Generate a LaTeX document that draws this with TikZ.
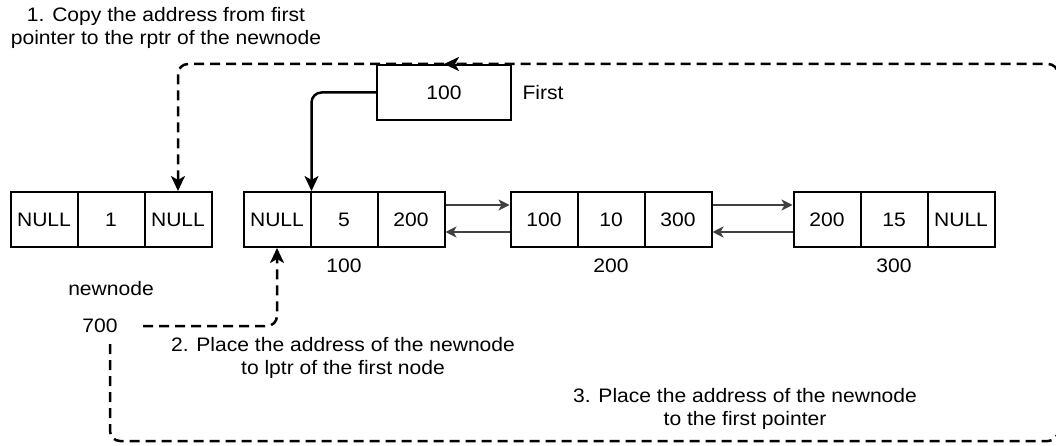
\documentclass[tikz,border=0pt]{standalone}
\usepackage{fontspec}
\setmainfont{Liberation Sans}[FakeStretch=1.08]
\usetikzlibrary{arrows.meta}
\begin{document}
\begin{tikzpicture}[x=1pt,y=-1pt,
  every node/.style={font=\fontsize{19.5}{23.5}\selectfont},
  cell/.style={draw, line width=2pt, minimum width=67pt, minimum height=55pt, inner sep=0pt},
  link/.style={draw=black!75, line width=1.8pt, -{Stealth[length=11pt,width=11pt,inset=3pt]}},
  movearrow/.style={line width=2.5pt, dash pattern=on 10pt off 6pt, rounded corners=10pt, -{Stealth[length=15pt,width=14pt,inset=4pt]}},
  solidarrow/.style={line width=2.5pt, rounded corners=10pt, -{Stealth[length=15pt,width=14pt,inset=4pt]}}]
\useasboundingbox (0,0) rectangle (1056,446);
% newnode
\node[cell] (a1) at (44,219.5) {NULL};
\node[cell] (a2) at (111,219.5) {1};
\node[cell] (a3) at (178,219.5) {NULL};
% node 100
\node[cell] (b1) at (277,219.5) {NULL};
\node[cell] (b2) at (344,219.5) {5};
\node[cell] (b3) at (411,219.5) {200};
% node 200
\node[cell] (c1) at (544,219.5) {100};
\node[cell] (c2) at (611,219.5) {10};
\node[cell] (c3) at (678,219.5) {300};
% node 300
\node[cell] (d1) at (827,219.5) {200};
\node[cell] (d2) at (894,219.5) {15};
\node[cell] (d3) at (961,219.5) {NULL};
% first pointer
\node[cell, minimum width=134pt] (first) at (444,92.5) {100};
\node[anchor=west] (firstlbl) at (519,93) {First};
% address labels
\node (l100) at (344,266) {100};
\node (l200) at (611,266) {200};
\node (l300) at (894,266) {300};
\node (newlbl) at (111,289) {newnode};
\node[minimum width=86pt, minimum height=36pt] (seven) at (100,326) {700};
% step texts
\node[align=center] (t1) at (166,28) {1. Copy the address from first\\pointer to the rptr of the newnode};
\node[align=center] (t2) at (343,358) {2. Place the address of the newnode\\to lptr of the first node};
\node[align=center] (t3) at (745,409) {3. Place the address of the newnode\\to the first pointer};
% links
\draw[link] ([yshift=14.5pt]b3.east) -- ([yshift=14.5pt]c1.west);
\draw[link] ([yshift=-12.5pt]c1.west) -- ([yshift=-12.5pt]b3.east);
\draw[link] ([yshift=14.5pt]c3.east) -- ([yshift=14.5pt]d1.west);
\draw[link] ([yshift=-12.5pt]d1.west) -- ([yshift=-12.5pt]c3.east);
% pointer arrows
\draw[solidarrow] (first.west) -| (b1.north east);
\draw[movearrow] (first.north) -| (a3.north);
\draw[movearrow] (seven.east) -| (b1.south);
\coordinate (br) at (1058,441);
\draw[movearrow] ([xshift=10pt]seven.south) |- (br) |- (first.north);
\end{tikzpicture}
\end{document}
